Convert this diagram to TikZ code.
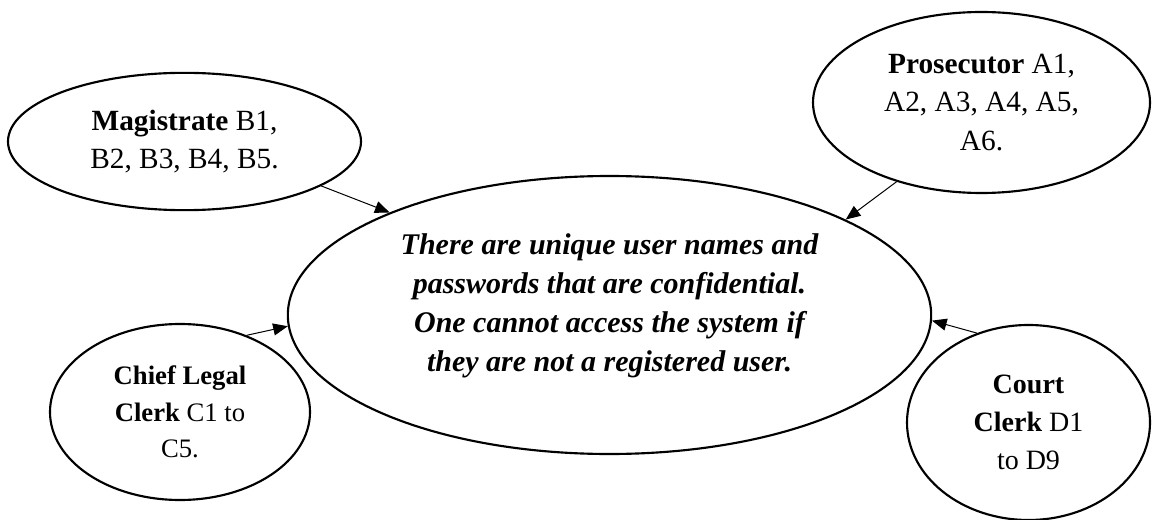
\documentclass[tikz,border=0pt]{standalone}
\usepackage{fontspec}
\setmainfont{Liberation Serif}
\usetikzlibrary{arrows.meta,shapes.geometric}
\begin{document}
\begin{tikzpicture}[x=0.75pt,y=-0.75pt,
  bubble/.style={ellipse, draw, line width=1.6pt, inner sep=0pt, align=center,
    font=\fontsize{22pt}{29pt}\selectfont},
  link/.style={line width=0.75pt, -{Triangle[length=11pt,width=9pt]}},
]
\useasboundingbox (0,0) rectangle (1155,520);

% central statement
\node[ellipse, draw, line width=1.6pt, minimum width=482.5pt, minimum height=208.5pt]
  (sys) at (609.5,315) {};
\node[align=center, font=\fontsize{22.5pt}{29.25pt}\selectfont\bfseries\itshape]
  (claim) at (609.5,306)
  {There are unique user names and\\
   passwords that are confidential.\\
   One cannot access the system if\\
   they are not a registered user.};

% user groups
\node[bubble, minimum width=264.75pt, minimum height=103pt] (mag) at (184.5,141.5)
  {\textbf{Magistrate} B1,\\ B2, B3, B4, B5.};
\node[bubble, minimum width=252.75pt, minimum height=135.75pt] (pros) at (981.5,102.5)
  {\textbf{Prosecutor} A1,\\ A2, A3, A4, A5,\\ A6.};
\node[bubble, minimum width=195pt, minimum height=132pt,
      font=\fontsize{20pt}{27.4pt}\selectfont] (chief) at (180,412)
  {\textbf{Chief Legal}\\ \textbf{Clerk} C1 to\\ C5.};
\node[bubble, minimum width=182.25pt, minimum height=146.25pt,
      font=\fontsize{21pt}{28.5pt}\selectfont] (court) at (1028.5,422.5)
  {\textbf{Court}\\ \textbf{Clerk} D1\\ to D9};

% access links
\draw[link] (mag.-18.5) -- (sys.155.7);
\draw[link] (pros.-137.7) -- (sys.22.1);
\draw[link] (chief.49.7) -- (sys.-178);
\draw[link] (court.120.2) -- (sys.-1.8);
\end{tikzpicture}
\end{document}
